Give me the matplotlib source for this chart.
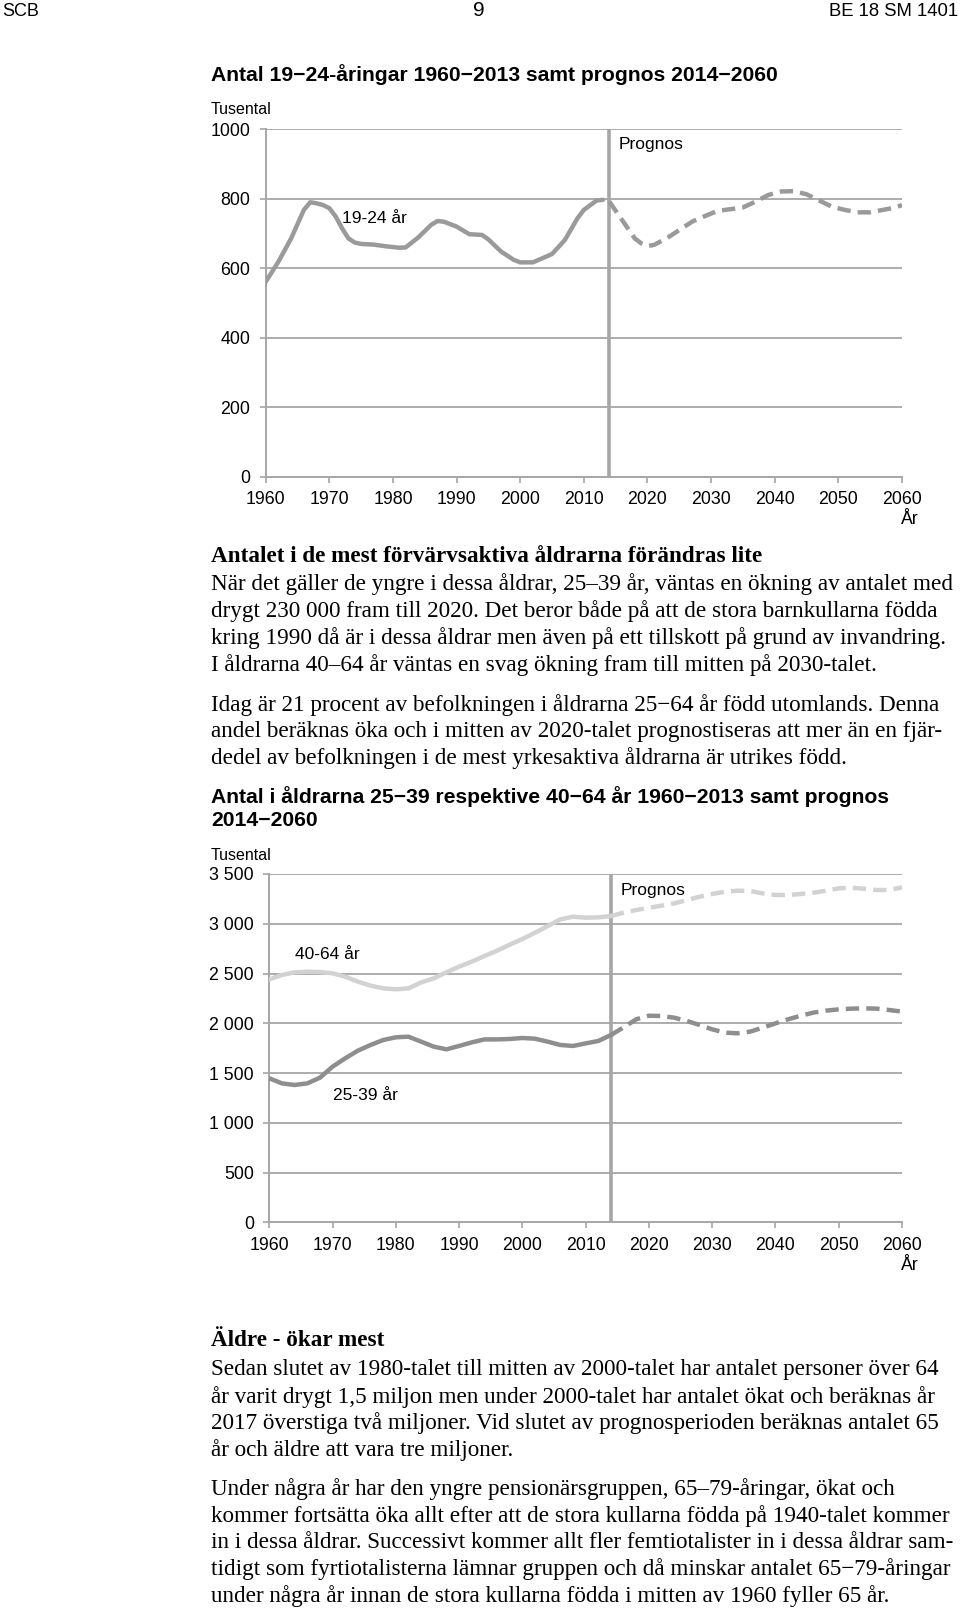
import matplotlib.pyplot as plt

# Diagram 1: 19-24 år (tusental)
ar_hist_1 = [1960, 1962, 1964, 1966, 1967, 1968, 1969, 1970, 1971, 1972, 1973, 1974, 1975, 1977,
             1979, 1981, 1982, 1984, 1986, 1987, 1988, 1990, 1992, 1994, 1995, 1997, 1999, 2000,
             2002, 2004, 2005, 2007, 2009, 2010, 2012, 2013]
ung_hist = [561, 619, 686, 768, 790, 787, 782, 773, 749, 715, 686, 674, 670, 668,
            663, 659, 660, 689, 725, 736, 734, 720, 698, 696, 683, 648, 624, 617,
            617, 633, 641, 681, 744, 768, 795, 797]
ar_prog_1 = [2014, 2016, 2018, 2019, 2020, 2021, 2023, 2025, 2027, 2029, 2031, 2033, 2035, 2037,
             2039, 2041, 2043, 2045, 2047, 2049, 2051, 2053, 2055, 2057, 2059, 2060]
ung_prog = [792, 739, 686, 672, 664, 667, 686, 710, 734, 750, 765, 770, 775, 792,
            811, 821, 822, 813, 795, 777, 768, 761, 761, 768, 775, 782]

# Diagram 2: 25-39 och 40-64 år (tusental)
ar_hist_2 = [1960, 1962, 1964, 1966, 1968, 1970, 1972, 1974, 1976, 1978, 1980, 1982, 1984, 1986,
             1988, 1990, 1992, 1994, 1996, 1998, 2000, 2002, 2004, 2006, 2008, 2010, 2012, 2014]
aldre_hist = [2441, 2485, 2512, 2518, 2515, 2502, 2468, 2418, 2378, 2351, 2341, 2351, 2411, 2451,
              2512, 2569, 2619, 2676, 2729, 2790, 2847, 2910, 2977, 3044, 3071, 3061, 3064, 3078]
yngre_hist = [1447, 1396, 1380, 1396, 1453, 1564, 1648, 1725, 1782, 1832, 1859, 1865, 1815, 1765,
              1738, 1772, 1808, 1838, 1838, 1842, 1852, 1845, 1815, 1782, 1772, 1798, 1822, 1882]
ar_prog_2 = [2014, 2016, 2018, 2020, 2022, 2024, 2026, 2028, 2030, 2032, 2034, 2036, 2038, 2040,
             2042, 2044, 2046, 2048, 2050, 2052, 2054, 2056, 2058, 2060]
aldre_prog = [3078, 3111, 3138, 3161, 3182, 3205, 3238, 3272, 3299, 3322, 3332, 3329, 3305, 3289,
              3289, 3299, 3312, 3332, 3356, 3362, 3352, 3339, 3339, 3366]
yngre_prog = [1882, 1959, 2040, 2076, 2073, 2056, 2023, 1983, 1939, 1906, 1899, 1916, 1956, 1999,
              2040, 2076, 2107, 2127, 2140, 2147, 2150, 2147, 2133, 2117]

xticks = list(range(1960, 2061, 10))
yticks_1 = [0, 200, 400, 600, 800, 1000]
yticks_2 = [0, 500, 1000, 1500, 2000, 2500, 3000, 3500]
ylabels_2 = ['0', '500', '1 000', '1 500', '2 000', '2 500', '3 000', '3 500']

plt.rcParams['font.family'] = ['Liberation Sans', 'DejaVu Sans']

W, H = 960, 1611
fig = plt.figure(figsize=(W / 100, H / 100), dpi=100)
GRID = '#a6a6a6'


def px_axes(left, top, right, bottom):
    return fig.add_axes([left / W, 1 - bottom / H, (right - left) / W, (bottom - top) / H])


def style(ax, yticks, ylabels, ymax):
    ax.set_xlim(1960, 2060)
    ax.set_ylim(0, ymax)
    ax.set_xticks(xticks)
    ax.set_yticks(yticks)
    ax.set_yticklabels(ylabels)
    ax.tick_params(labelsize=12.8, color=GRID, length=4, width=1.2)
    ax.tick_params(axis='x', pad=6.5)
    ax.tick_params(axis='y', pad=7)
    for s in ['top', 'right']:
        ax.spines[s].set_visible(False)
    for s in ['left', 'bottom']:
        ax.spines[s].set_color(GRID)
        ax.spines[s].set_linewidth(1.4)
    for y in yticks[1:]:
        ax.axhline(y, color=GRID, lw=1.3, zorder=1)
    ax.axvline(2014, color=GRID, lw=2.6, zorder=2)


def tl(x, y, s, **kw):
    fig.text(x / W, 1 - y / H, s, **kw)


# sidhuvud
tl(2, 12, 'SCB', fontsize=13, va='center')
tl(479, 10, '9', fontsize=15, va='center', ha='center')
tl(958, 12, 'BE 18 SM 1401', fontsize=13.3, va='center', ha='right')

# diagram 1
tl(211, 75, 'Antal 19\u221224-åringar 1960\u22122013 samt prognos 2014\u22122060',
   fontsize=15.2, fontweight='bold', va='center')
tl(211, 109, 'Tusental', fontsize=11.5, va='center')
ax1 = px_axes(265.7, 129.3, 902, 476.7)
style(ax1, yticks_1, [str(v) for v in yticks_1], 1000)
ax1.plot(ar_hist_1, ung_hist, color='#9a9a9a', lw=3.2, solid_capstyle='round', zorder=3)
ax1.plot(ar_prog_1, ung_prog, color='#9a9a9a', lw=3.2, dashes=(3, 1.6), zorder=3)
ax1.text(1972, 742, '19-24 år', fontsize=12.5, va='center')
ax1.text(2015.5, 957, 'Prognos', fontsize=12.5, va='center')
tl(910, 520, 'År', fontsize=12.8, va='center', ha='center')

# brödtext 1
serif = ['Liberation Serif', 'DejaVu Serif']
TS = 16.7
tl(211, 557, 'Antalet i de mest förvärvsaktiva åldrarna förändras lite', family=serif,
   fontsize=TS, fontweight='bold', va='center')
rader_1 = [
    (584, 'När det gäller de yngre i dessa åldrar, 25\u201339 år, väntas en ökning av antalet med'),
    (611.5, 'drygt 230 000 fram till 2020. Det beror både på att de stora barnkullarna födda'),
    (638, 'kring 1990 då är i dessa åldrar men även på ett tillskott på grund av invandring.'),
    (665, 'I åldrarna 40\u201364 år väntas en svag ökning fram till mitten på 2030-talet.'),
    (705, 'Idag är 21 procent av befolkningen i åldrarna 25\u221264 år född utomlands. Denna'),
    (732, 'andel beräknas öka och i mitten av 2020-talet prognostiseras att mer än en fjär-'),
    (758.5, 'dedel av befolkningen i de mest yrkesaktiva åldrarna är utrikes född.'),
]
for y, s in rader_1:
    tl(211, y, s, family=serif, fontsize=TS, va='center')

# diagram 2
tl(211, 796.5, 'Antal i åldrarna 25\u221239 respektive 40\u221264 år 1960\u22122013 samt prognos',
   fontsize=15.2, fontweight='bold', va='center')
tl(211, 821, '2014\u22122060', fontsize=15.2, fontweight='bold', va='center')
tl(211, 855, 'Tusental', fontsize=11.5, va='center')
ax2 = px_axes(269.3, 874, 902, 1222.3)
style(ax2, yticks_2, ylabels_2, 3500)
ax2.plot(ar_hist_2, aldre_hist, color='#d2d2d2', lw=3.2, zorder=3)
ax2.plot(ar_prog_2, aldre_prog, color='#d2d2d2', lw=3.2, dashes=(3, 1.6), zorder=3)
ax2.plot(ar_hist_2, yngre_hist, color='#8e8e8e', lw=3.2, zorder=3)
ax2.plot(ar_prog_2, yngre_prog, color='#8e8e8e', lw=3.2, dashes=(3, 1.6), zorder=3)
ax2.text(1964, 2690, '40-64 år', fontsize=12.5, va='center')
ax2.text(1970, 1270, '25-39 år', fontsize=12.5, va='center')
ax2.text(2015.5, 3330, 'Prognos', fontsize=12.5, va='center')
tl(910, 1265, 'År', fontsize=12.8, va='center', ha='center')

# brödtext 2
tl(211, 1341, 'Äldre - ökar mest', family=serif, fontsize=TS, fontweight='bold', va='center')
rader_2 = [
    (1369, 'Sedan slutet av 1980-talet till mitten av 2000-talet har antalet personer över 64'),
    (1397, 'år varit drygt 1,5 miljon men under 2000-talet har antalet ökat och beräknas år'),
    (1423, '2017 överstiga två miljoner. Vid slutet av prognosperioden beräknas antalet 65'),
    (1450, 'år och äldre att vara tre miljoner.'),
    (1489, 'Under några år har den yngre pensionärsgruppen, 65\u201379-åringar, ökat och'),
    (1516, 'kommer fortsätta öka allt efter att de stora kullarna födda på 1940-talet kommer'),
    (1543, 'in i dessa åldrar. Successivt kommer allt fler femtiotalister in i dessa åldrar sam-'),
    (1569, 'tidigt som fyrtiotalisterna lämnar gruppen och då minskar antalet 65\u221279-åringar'),
    (1596, 'under några år innan de stora kullarna födda i mitten av 1960 fyller 65 år.'),
]
for y, s in rader_2:
    tl(211, y, s, family=serif, fontsize=TS, va='center')

fig.savefig('out.png', dpi=100)
